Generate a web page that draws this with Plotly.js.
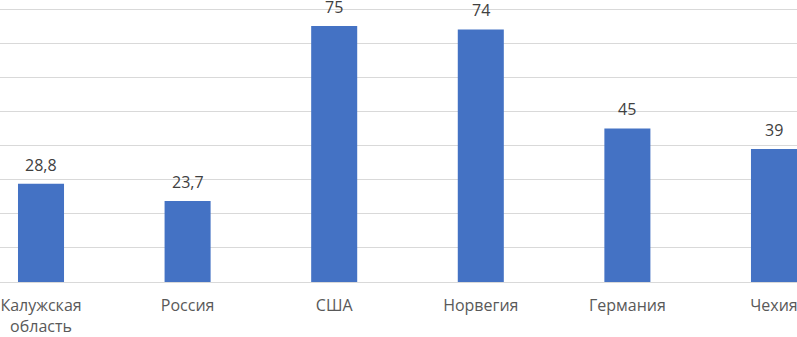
<!DOCTYPE html>
<html>
<head>
<meta charset="utf-8">
<script src="https://cdn.plot.ly/plotly-3.0.1.min.js"></script>
<style>html,body{margin:0;padding:0;background:#fff;}#chart{width:797px;height:337px;}</style>
</head>
<body>
<div id="chart"></div>
<script>
const categories = ["Калужская<br>область", "Россия", "США", "Норвегия", "Германия", "Чехия"];
const values = [28.8, 23.7, 75, 74, 45, 39];
const valueLabels = ["28,8", "23,7", "75", "74", "45", "39"];
const yTicks = [0, 10, 20, 30, 40, 50, 60, 70, 80];

const trace = {
  type: 'bar',
  x: categories,
  y: values,
  marker: {color: '#4472C4'},
  width: 0.314,
  hoverinfo: 'none'
};

const annotations = categories.map((c, i) => ({
  x: c, y: values[i], text: valueLabels[i],
  xref: 'x', yref: 'y', showarrow: false,
  yanchor: 'bottom', yshift: 6,
  font: {family: 'Open Sans, sans-serif', size: 16, color: '#404040'}
}));

const layout = {
  width: 797, height: 337,
  margin: {l: 0, r: 0, t: 2, b: 55},
  paper_bgcolor: '#ffffff', plot_bgcolor: '#ffffff',
  showlegend: false,
  xaxis: {
    type: 'category',
    range: [-0.2797, 5.157],
    showgrid: false, zeroline: false, showline: false,
    ticks: 'outside', ticklen: 9, tickcolor: 'rgba(0,0,0,0)',
    tickfont: {family: 'Open Sans, sans-serif', size: 16, color: '#595959'},
    fixedrange: true
  },
  yaxis: {
    range: [0, 82.05],
    tickvals: yTicks,
    showticklabels: false,
    showgrid: true, gridcolor: '#d9d9d9', gridwidth: 1,
    zeroline: true, zerolinecolor: '#d9d9d9', zerolinewidth: 1,
    showline: false, fixedrange: true
  },
  annotations: annotations
};

Plotly.newPlot('chart', [trace], layout, {displayModeBar: false, staticPlot: true});
</script>
</body>
</html>
